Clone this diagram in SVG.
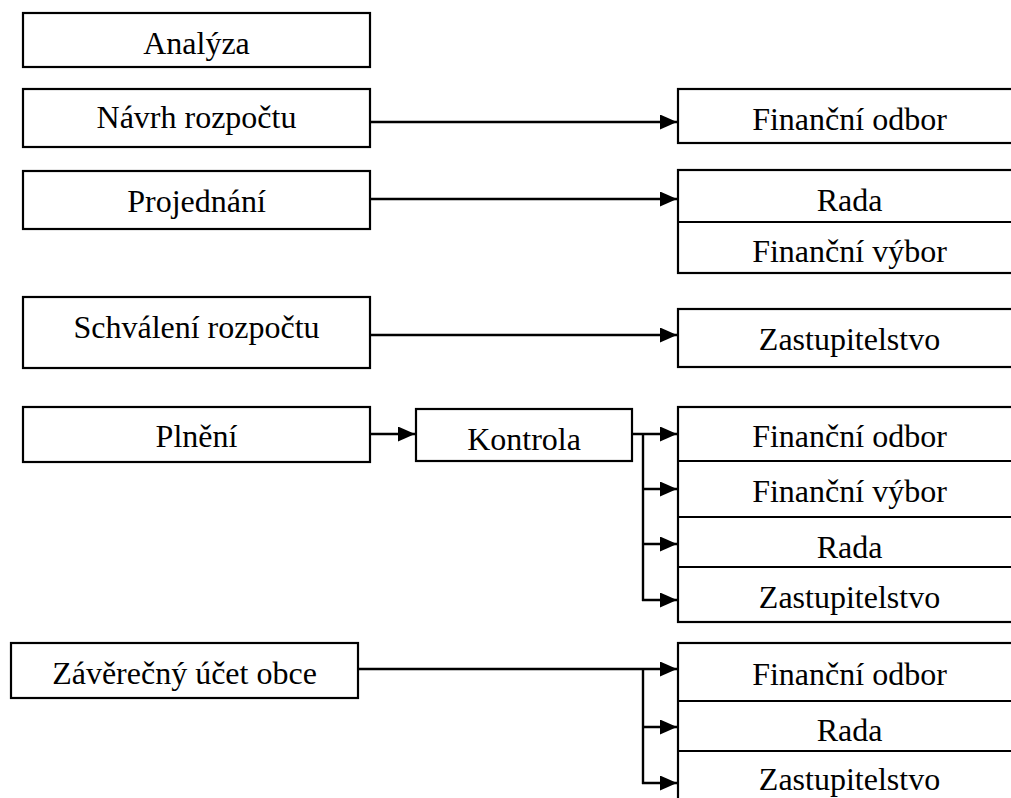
<svg xmlns="http://www.w3.org/2000/svg" width="1011" height="798" viewBox="0 0 1011 798">
<defs>
<style>
.box{fill:#fff;stroke:#000;stroke-width:2.2}
.sep{stroke:#000;stroke-width:2.2}
.t{font-family:'Liberation Serif','DejaVu Serif',serif;font-size:32px;fill:#000;text-anchor:middle}
.c{fill:none;stroke:#000;stroke-width:2.4}
</style>
<marker id="ah" markerUnits="userSpaceOnUse" markerWidth="17" markerHeight="15" refX="17" refY="7.5" orient="auto">
<path d="M0,0 L17,7.5 L0,15 Z" fill="#000"/>
</marker>
</defs>
<rect width="1011" height="798" fill="#fff"/>

<g id="connectors">
<path class="c" d="M370,122 H677" marker-end="url(#ah)"/>
<path class="c" d="M370,199 H677" marker-end="url(#ah)"/>
<path class="c" d="M370,335 H677" marker-end="url(#ah)"/>
<path class="c" d="M370,434 H415" marker-end="url(#ah)"/>
<path class="c" d="M632,434 H677" marker-end="url(#ah)"/>
<path class="c" d="M643,433 V601"/>
<path class="c" d="M642,489 H677" marker-end="url(#ah)"/>
<path class="c" d="M642,544 H677" marker-end="url(#ah)"/>
<path class="c" d="M642,600 H677" marker-end="url(#ah)"/>
<path class="c" d="M358,669 H677" marker-end="url(#ah)"/>
<path class="c" d="M643,668 V784"/>
<path class="c" d="M642,727 H677" marker-end="url(#ah)"/>
<path class="c" d="M642,783 H677" marker-end="url(#ah)"/>
</g>

<g id="analyza"><rect class="box" x="23" y="13" width="347" height="54"/><text class="t" font-family="Liberation Serif, serif" x="196.5" y="54">Analýza</text></g>
<g id="navrh"><rect class="box" x="23" y="89" width="347" height="58"/><text class="t" font-family="Liberation Serif, serif" x="196.5" y="128">Návrh rozpočtu</text></g>
<g id="projednani"><rect class="box" x="23" y="171" width="347" height="58"/><text class="t" font-family="Liberation Serif, serif" x="196.5" y="212">Projednání</text></g>
<g id="schvaleni"><rect class="box" x="23" y="297" width="347" height="71"/><text class="t" font-family="Liberation Serif, serif" x="196.5" y="338">Schválení rozpočtu</text></g>
<g id="plneni"><rect class="box" x="23" y="407" width="347" height="55"/><text class="t" font-family="Liberation Serif, serif" x="196.5" y="447">Plnění</text></g>
<g id="kontrola"><rect class="box" x="416" y="409" width="216" height="52"/><text class="t" font-family="Liberation Serif, serif" x="524" y="450">Kontrola</text></g>
<g id="zaverecny"><rect class="box" x="11" y="643" width="347" height="55"/><text class="t" font-family="Liberation Serif, serif" x="184.5" y="684">Závěrečný účet obce</text></g>

<g id="fo1"><rect class="box" x="678" y="89" width="345" height="54"/><text class="t" font-family="Liberation Serif, serif" x="849.5" y="130">Finanční odbor</text></g>

<g id="grp-projednani">
<rect class="box" x="678" y="170" width="345" height="103"/>
<line class="sep" x1="678" y1="222" x2="1023" y2="222"/>
<text class="t" font-family="Liberation Serif, serif" x="849.5" y="211">Rada</text>
<text class="t" font-family="Liberation Serif, serif" x="849.5" y="262">Finanční výbor</text>
</g>

<g id="zast1"><rect class="box" x="678" y="309" width="345" height="58"/><text class="t" font-family="Liberation Serif, serif" x="849.5" y="350">Zastupitelstvo</text></g>

<g id="grp-kontrola">
<rect class="box" x="678" y="407" width="345" height="215"/>
<line class="sep" x1="678" y1="461" x2="1023" y2="461"/>
<line class="sep" x1="678" y1="517" x2="1023" y2="517"/>
<line class="sep" x1="678" y1="567" x2="1023" y2="567"/>
<text class="t" font-family="Liberation Serif, serif" x="849.5" y="447">Finanční odbor</text>
<text class="t" font-family="Liberation Serif, serif" x="849.5" y="502">Finanční výbor</text>
<text class="t" font-family="Liberation Serif, serif" x="849.5" y="558">Rada</text>
<text class="t" font-family="Liberation Serif, serif" x="849.5" y="608">Zastupitelstvo</text>
</g>

<g id="grp-zaverecny">
<rect class="box" x="678" y="643" width="345" height="170"/>
<line class="sep" x1="678" y1="701" x2="1023" y2="701"/>
<line class="sep" x1="678" y1="751" x2="1023" y2="751"/>
<text class="t" font-family="Liberation Serif, serif" x="849.5" y="685">Finanční odbor</text>
<text class="t" font-family="Liberation Serif, serif" x="849.5" y="741">Rada</text>
<text class="t" font-family="Liberation Serif, serif" x="849.5" y="790">Zastupitelstvo</text>
</g>
</svg>
